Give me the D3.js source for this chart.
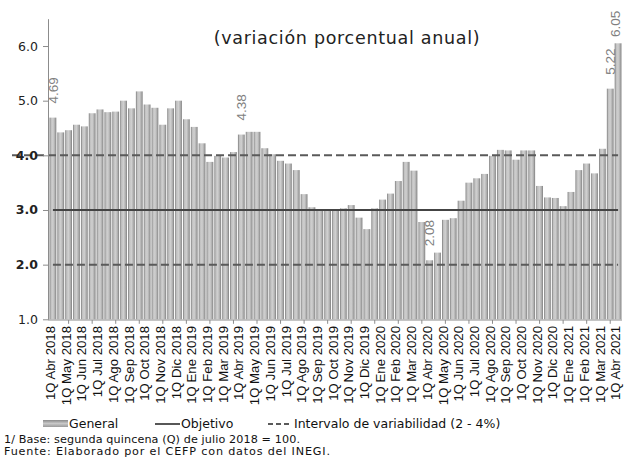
<!DOCTYPE html>
<html><head><meta charset="utf-8">
<script src="https://cdn.jsdelivr.net/npm/d3@7/dist/d3.min.js"></script>
<style>body{margin:0;background:#fff}svg{display:block}</style>
</head><body>
<svg id="c" width="624" height="460"></svg>
<script>
// ---- data ----
const monthLabels = [
  "Abr 2018","May 2018","Jun 2018","Jul 2018","Ago 2018","Sep 2018","Oct 2018","Nov 2018","Dic 2018",
  "Ene 2019","Feb 2019","Mar 2019","Abr 2019","May 2019","Jun 2019","Jul 2019","Ago 2019","Sep 2019",
  "Oct 2019","Nov 2019","Dic 2019","Ene 2020","Feb 2020","Mar 2020","Abr 2020","May 2020","Jun 2020",
  "Jul 2020","Ago 2020","Sep 2020","Oct 2020","Nov 2020","Dic 2020","Ene 2021","Feb 2021","Mar 2021","Abr 2021"
];
const general = [
  4.69,4.42, 4.46,4.56, 4.53,4.77, 4.84,4.79, 4.80,5.00, 4.86,5.17, 4.93,4.87, 4.56,4.86, 5.00,4.66,
  4.52,4.22, 3.88,3.99, 3.96,4.06, 4.38,4.43, 4.43,4.13, 4.02,3.90, 3.85,3.73, 3.29,3.05, 3.01,3.01,
  3.01,3.03, 3.09,2.86, 2.65,3.03, 3.19,3.30, 3.53,3.88, 3.72,2.78, 2.08,2.22, 2.82,2.85, 3.17,3.50,
  3.58,3.66, 3.99,4.10, 4.09,3.92, 4.09,4.09, 3.44,3.23, 3.22,3.07, 3.33,3.73, 3.85,3.67, 4.12,5.22,
  6.05
];
const objetivo = 3.0;
const intervalo = [2.0, 4.0];
const yTicks = [1, 2, 3, 4, 5, 6];
const labeled = ["1Q Abr 2018", "1Q Abr 2019", "1Q Abr 2020", "2Q Mar 2021", "1Q Abr 2021"];
const subtitle = "(variación porcentual anual)";
const legendItems = ["General", "Objetivo", "Intervalo de variabilidad (2 - 4%)"];
const notes = ["1/ Base: segunda quincena (Q) de julio 2018 = 100.",
               "Fuente: Elaborado por el CEFP con  datos del INEGI."];

(function () {
const quincenas = [];
monthLabels.forEach((m, i) => {
  quincenas.push("1Q " + m);
  if (i < monthLabels.length - 1) quincenas.push("2Q " + m);
});
const rows = quincenas.map((q, i) => ({q, v: general[i]}));

const svg = d3.select("#c");
const L = 49, R = 622, B = 319.3, T = 18.7;
const x = d3.scaleBand().domain(quincenas).range([L, R]).paddingInner(0.14).paddingOuter(0.07);
const y = d3.scaleLinear().domain([1, 6.5]).range([B, T]);

const defs = svg.append("defs");
const g1 = defs.append("linearGradient").attr("id", "barGrad").attr("x1", 0).attr("x2", 1).attr("y1", 0).attr("y2", 0);
[[0, "#787878"], [0.2, "#c0c0c0"], [0.5, "#d0d0d0"], [0.8, "#acacac"], [1, "#7c7c7c"]]
  .forEach(([o, c]) => g1.append("stop").attr("offset", o).attr("stop-color", c));
const g2 = defs.append("linearGradient").attr("id", "legGrad").attr("x1", 0).attr("x2", 0).attr("y1", 0).attr("y2", 1);
[[0, "#8a8a8a"], [0.5, "#c8c8c8"], [1, "#9a9a9a"]]
  .forEach(([o, c]) => g2.append("stop").attr("offset", o).attr("stop-color", c));

svg.append("text").attr("x", 347).attr("y", 44).attr("text-anchor", "middle")
  .attr("font-family", "DejaVu Sans").attr("font-size", 17.5).attr("letter-spacing", 0.7)
  .attr("fill", "#222").text(subtitle);

svg.append("g").selectAll("rect").data(rows).join("rect")
  .attr("x", d => x(d.q)).attr("width", x.bandwidth())
  .attr("y", d => y(d.v)).attr("height", d => y(1) - y(d.v))
  .attr("fill", "url(#barGrad)");

const lineG = svg.append("g");
const cx0 = x(quincenas[0]) + x.bandwidth() / 2, cx1 = x(quincenas[quincenas.length - 1]) + x.bandwidth() / 2;
lineG.append("line").attr("x1", 12).attr("x2", cx1).attr("y1", y(intervalo[1])).attr("y2", y(intervalo[1]))
  .attr("stroke", "#5a5a5a").attr("stroke-width", 2).attr("stroke-dasharray", "8,4");
lineG.append("line").attr("x1", cx0).attr("x2", cx1).attr("y1", y(intervalo[0])).attr("y2", y(intervalo[0]))
  .attr("stroke", "#5a5a5a").attr("stroke-width", 2).attr("stroke-dasharray", "8,4");
lineG.append("line").attr("x1", cx0).attr("x2", cx1).attr("y1", y(objetivo)).attr("y2", y(objetivo))
  .attr("stroke", "#444").attr("stroke-width", 1.8);

const yAxis = svg.append("g").attr("transform", `translate(${L - 1},0)`)
  .call(d3.axisLeft(y).tickValues(yTicks).tickFormat(d3.format(".1f")).tickSize(5).tickSizeOuter(0));
yAxis.select(".domain").attr("stroke", "#8c8c8c");
yAxis.selectAll(".tick line").attr("stroke", "#8c8c8c");
yAxis.selectAll(".tick text").attr("font-family", "DejaVu Sans").attr("font-size", 12.5).attr("fill", "#222")
  .attr("x", -10)
  .attr("font-weight", d => (d >= intervalo[0] && d <= intervalo[1]) ? "bold" : "normal");

const xAxis = svg.append("g").attr("transform", `translate(0,${B + 0.7})`)
  .call(d3.axisBottom(x).tickValues(quincenas.filter(q => q.startsWith("1Q"))).tickSize(0).tickSizeOuter(0));
xAxis.select(".domain").attr("stroke", "#8c8c8c").attr("d", `M${L - 1},0H${R}`);
xAxis.selectAll(".tick text")
  .attr("font-family", "Liberation Sans").attr("font-size", 13.2).attr("fill", "#111")
  .attr("transform", "rotate(-90)").attr("text-anchor", "end")
  .attr("x", -6).attr("y", -2.5).attr("dy", "0.35em");
svg.append("g").selectAll("line").data(quincenas.filter((q, i) => i % 3 === 2)).join("line")
  .attr("x1", d => x(d) + x.bandwidth() / 2).attr("x2", d => x(d) + x.bandwidth() / 2)
  .attr("y1", B + 0.7).attr("y2", B + 4.5).attr("stroke", "#8c8c8c");

svg.append("g").selectAll("text").data(rows.filter(d => labeled.includes(d.q))).join("text")
  .attr("transform", d => `translate(${Math.min(x(d.q) + x.bandwidth() / 2, 615)},${Math.max(y(d.v) - 14, 37)}) rotate(-90)`)
  .attr("dy", "0.35em").attr("text-anchor", "start")
  .attr("font-family", "Liberation Sans").attr("font-size", 13.5).attr("fill", "#7f7f7f")
  .text(d => d3.format(".2f")(d.v));

const ly = 424;
const leg = svg.append("g").attr("font-family", "DejaVu Sans").attr("font-size", 12.5).attr("fill", "#111");
leg.append("rect").attr("x", 43).attr("y", ly - 4).attr("width", 25).attr("height", 7).attr("fill", "url(#legGrad)");
leg.append("text").attr("x", 69).attr("y", ly).attr("dy", "0.35em").text(legendItems[0]);
leg.append("line").attr("x1", 155).attr("x2", 180).attr("y1", ly).attr("y2", ly).attr("stroke", "#444").attr("stroke-width", 1.8);
leg.append("text").attr("x", 181).attr("y", ly).attr("dy", "0.35em").text(legendItems[1]);
leg.append("line").attr("x1", 268).attr("x2", 291).attr("y1", ly).attr("y2", ly).attr("stroke", "#5a5a5a")
  .attr("stroke-width", 1.8).attr("stroke-dasharray", "5,3");
leg.append("text").attr("x", 294).attr("y", ly).attr("dy", "0.35em").text(legendItems[2]);

const noteLen = [296, 326];
svg.append("g").attr("font-family", "DejaVu Sans").attr("font-size", 11.2).attr("fill", "#111")
  .selectAll("text").data(notes).join("text")
  .attr("x", 4).attr("y", (d, i) => 443 + i * 12)
  .attr("textLength", (d, i) => noteLen[i]).attr("lengthAdjust", "spacing")
  .text(d => d);
})();
</script>
</body></html>
